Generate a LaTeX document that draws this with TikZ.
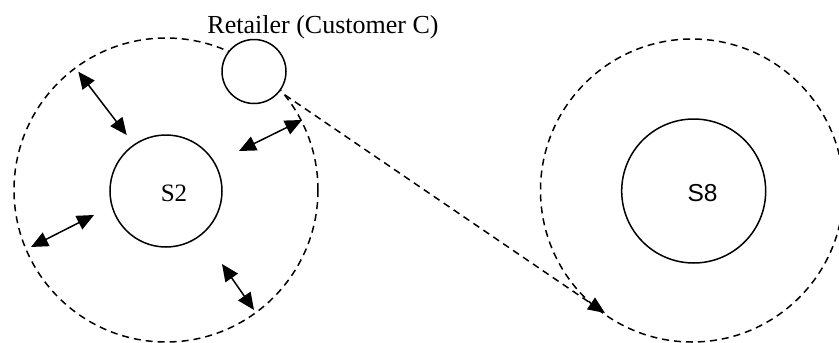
\documentclass[tikz,border=0pt]{standalone}
\usepackage{fontspec}
\setmainfont{Liberation Serif}
\newfontfamily\arialfont{Liberation Sans}
\usetikzlibrary{arrows.meta}
\tikzset{
  solidcirc/.style={circle, draw, line width=1.5pt, inner sep=0pt, fill=white},
  zone/.style={circle, draw, line width=1.5pt, inner sep=0pt, dash pattern=on 7pt off 5pt},
  lbl/.style={inner sep=0pt, anchor=base},
  biarrow/.style={line width=1.5pt, {Triangle[length=17pt,width=15pt]}-{Triangle[length=17pt,width=15pt]}},
  flowarrow/.style={line width=1.5pt, dash pattern=on 7pt off 5pt, -{Triangle[length=17pt,width=14pt]}}
}
\begin{document}
\begin{tikzpicture}[x=1pt,y=-1pt]
\useasboundingbox (0,0) rectangle (839,343);
\begin{scope}
\clip (0,0) rectangle (839,343);
% zones
\node[zone, minimum size=304pt] (zoneL) at (166,190) {};
\node[zone, minimum size=303pt] (zoneR) at (692,190.5) {};
% stores
\node[solidcirc, minimum size=112pt] (s2) at (166,191) {};
\node[lbl, font=\fontsize{25}{30}\selectfont] (s2lbl) at (174,201.5) {S2};
\node[solidcirc, minimum size=144pt] (s8) at (693.7,191) {};
\node[lbl, font=\arialfont\fontsize{24.5}{30}\selectfont] (s8lbl) at (702.5,201.5) {S8};
% arrow end points
\coordinate (a1) at (78.3,71.7);
\coordinate (b1) at (126.7,135);
\coordinate (a2) at (239,151);
\coordinate (b2) at (302,120);
\coordinate (a3) at (31,247);
\coordinate (b3) at (94,215);
\coordinate (a4) at (222,264);
\coordinate (b4) at (254,310);
\coordinate (fs) at (285,95);
\coordinate (fe) at (605,313);
\draw[biarrow] (a1) -- (b1);
\draw[biarrow] (a2) -- (b2);
\draw[biarrow] (a3) -- (b3);
\draw[biarrow] (a4) -- (b4);
\draw[flowarrow] (fs) -- (fe);
% retailer
\node[solidcirc, minimum size=64pt] (ret) at (254,71.5) {};
\node[lbl, font=\fontsize{26}{30}\selectfont] (retlbl) at (323,33.3) {Retailer (Customer C)};
\end{scope}
\end{tikzpicture}
\end{document}
